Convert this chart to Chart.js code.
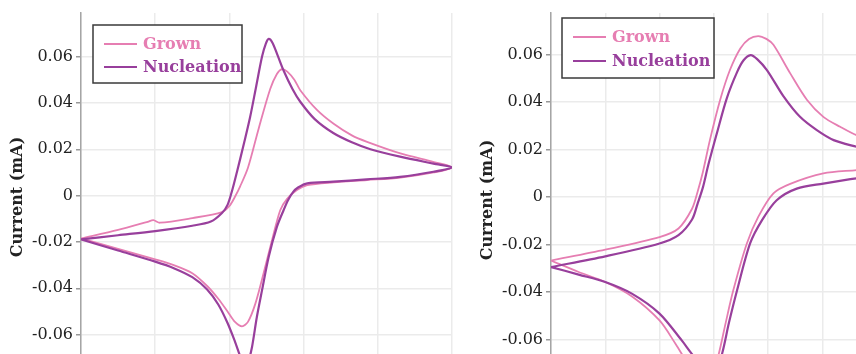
<!DOCTYPE html>
<html>
<head>
<meta charset="utf-8">
<script src="https://cdn.jsdelivr.net/npm/chart.js@4.4.1/dist/chart.umd.min.js"></script>
<style>
  html, body { margin: 0; padding: 0; background: #fff; }
  body { width: 856px; height: 354px; overflow: hidden; position: relative; }
  canvas { position: absolute; top: 0; }
  #cv-left { left: 0; }
  #cv-right { left: 470px; }
</style>
</head>
<body>
<canvas id="cv-left" width="470" height="381"></canvas>
<canvas id="cv-right" width="525" height="387"></canvas>
<script>
const seriesNames = ["Grown", "Nucleation"];
const seriesColors = ["#e67eb2", "#983f9c"];

const currentTicks = [-0.06, -0.04, -0.02, 0, 0.02, 0.04, 0.06];
const leftPotentialTicks = [-0.2, 0, 0.2, 0.4, 0.6, 0.8];
const rightPotentialTicks = [-0.2, -0.1, 0, 0.1, 0.2, 0.3, 0.4, 0.5, 0.6];

// left panel: potential (V) / current (mA), forward sweep then reverse sweep
const leftGrownV = [-0.2, -0.1, -0.02, -0.005, 0.013, 0.1, 0.18, 0.2, 0.215, 0.229, 0.25, 0.279, 0.31, 0.328, 0.342, 0.356, 0.375, 0.391, 0.436, 0.481, 0.53, 0.571, 0.661, 0.751, 0.8,
  0.751, 0.661, 0.571, 0.481, 0.41, 0.382, 0.355, 0.337, 0.315, 0.292, 0.27, 0.25, 0.234, 0.215, 0.195, 0.17, 0.14, 0.1, 0.05, 0.0, -0.1, -0.2];
const leftGrownI = [-0.0185, -0.0148, -0.0113, -0.0106, -0.0117, -0.0097, -0.0071, -0.0045, -0.0005, 0.004, 0.012, 0.029, 0.046, 0.0525, 0.0546, 0.0535, 0.050, 0.0455, 0.037, 0.031, 0.026, 0.0232, 0.0182, 0.0145, 0.0122,
  0.0100, 0.0078, 0.0067, 0.0057, 0.0045, 0.0024, -0.0015, -0.0063, -0.0192, -0.0336, -0.0466, -0.0545, -0.0564, -0.0545, -0.050, -0.0445, -0.039, -0.0335, -0.030, -0.0275, -0.023, -0.0185];

const leftNucV = [-0.2, -0.1, 0.0, 0.1, 0.15, 0.18, 0.195, 0.207, 0.22, 0.24, 0.256, 0.272, 0.288, 0.298, 0.306, 0.316, 0.33, 0.346, 0.37, 0.391, 0.43, 0.48, 0.53, 0.58, 0.66, 0.75, 0.8,
  0.75, 0.66, 0.57, 0.48, 0.41, 0.385, 0.372, 0.358, 0.346, 0.328, 0.306, 0.288, 0.274, 0.261, 0.252, 0.243, 0.232, 0.215, 0.195, 0.17, 0.14, 0.1, 0.05, 0.0, -0.1, -0.2];
const leftNucI = [-0.0189, -0.0171, -0.0153, -0.013, -0.0112, -0.0075, -0.004, 0.002, 0.010, 0.023, 0.034, 0.047, 0.060, 0.0655, 0.0676, 0.066, 0.0605, 0.054, 0.046, 0.0405, 0.033, 0.027, 0.023, 0.020, 0.0168, 0.0138, 0.0122,
  0.0103, 0.0081, 0.007, 0.006, 0.0053, 0.0035, 0.0016, -0.002, -0.0063, -0.0135, -0.0264, -0.0408, -0.0524, -0.0653, -0.071, -0.0735, -0.0705, -0.063, -0.055, -0.047, -0.0405, -0.0352, -0.0313, -0.0285, -0.0237, -0.0189];

// right panel
const rightGrownV = [-0.2, -0.1, 0.0, 0.035, 0.06, 0.07, 0.08, 0.093, 0.112, 0.13, 0.149, 0.165, 0.182, 0.197, 0.21, 0.241, 0.272, 0.302, 0.333, 0.363, 0.4,
  0.4, 0.363, 0.302, 0.241, 0.21, 0.182, 0.161, 0.136, 0.122, 0.109, 0.097, 0.08, 0.055, 0.03, 0.0, -0.05, -0.1, -0.149, -0.2];
const rightGrownI = [-0.0268, -0.0222, -0.0169, -0.0133, -0.005, 0.002, 0.0105, 0.024, 0.041, 0.0535, 0.0625, 0.0665, 0.0677, 0.0665, 0.064, 0.052, 0.0408, 0.0337, 0.0295, 0.026, 0.0235,
  0.0122, 0.0113, 0.0099, 0.0055, 0.0015, -0.0084, -0.0196, -0.0393, -0.053, -0.0663, -0.075, -0.077, -0.071, -0.062, -0.052, -0.042, -0.0358, -0.0316, -0.0268];

const rightNucV = [-0.2, -0.1, 0.0, 0.035, 0.06, 0.07, 0.08, 0.09, 0.106, 0.124, 0.143, 0.155, 0.168, 0.18, 0.198, 0.229, 0.259, 0.29, 0.321, 0.363, 0.4,
  0.4, 0.363, 0.302, 0.253, 0.216, 0.189, 0.167, 0.143, 0.128, 0.115, 0.105, 0.09, 0.065, 0.041, 0.0, -0.051, -0.1, -0.149, -0.2];
const rightNucI = [-0.0295, -0.025, -0.0196, -0.0161, -0.0095, -0.003, 0.004, 0.0135, 0.027, 0.0415, 0.0525, 0.0575, 0.0597, 0.058, 0.0534, 0.0422, 0.0337, 0.0281, 0.0239, 0.0211, 0.019,
  0.0085, 0.0078, 0.0056, 0.0035, -0.0014, -0.0098, -0.0196, -0.0393, -0.053, -0.0663, -0.0715, -0.0725, -0.0675, -0.0604, -0.0491, -0.0407, -0.0358, -0.0327, -0.0295];

Chart.defaults.font.family = '"DejaVu Serif", serif';
Chart.defaults.color = "#222";

const boxLegend = {
  id: "boxLegend",
  afterDraw(chart, args, opts) {
    const { ctx, chartArea } = chart;
    const x = chartArea.left + opts.x;
    const y = chartArea.top + opts.y;
    ctx.save();
    ctx.fillStyle = "#fff";
    ctx.fillRect(x, y, opts.width, opts.height);
    ctx.strokeStyle = "#3a3a3a";
    ctx.lineWidth = 1.5;
    ctx.strokeRect(x, y, opts.width, opts.height);
    ctx.font = 'bold 16px "DejaVu Serif"';
    ctx.textBaseline = "middle";
    chart.data.datasets.forEach((ds, i) => {
      const rowY = y + opts.rows[i];
      ctx.strokeStyle = ds.borderColor;
      ctx.lineWidth = ds.borderWidth;
      ctx.beginPath();
      ctx.moveTo(x + 11, rowY);
      ctx.lineTo(x + 44, rowY);
      ctx.stroke();
      ctx.fillStyle = ds.borderColor;
      ctx.fillText(ds.label, x + 50, rowY + 1);
    });
    ctx.restore();
  },
};

function pairs(vs, is) {
  return vs.map((v, k) => ({ x: v, y: is[k] }));
}

function makeCV(canvasId, grown, nuc, xTicks, xMax, yMax, legendBox, rightPad) {
  const datasets = [
    { label: seriesNames[0], data: grown, borderColor: seriesColors[0], borderWidth: 1.8, order: 1 },
    { label: seriesNames[1], data: nuc, borderColor: seriesColors[1], borderWidth: 2.2, order: 0 },
  ].map((d) => ({ ...d, showLine: true, pointRadius: 0, tension: 0.3, fill: false }));

  return new Chart(document.getElementById(canvasId), {
    type: "scatter",
    data: { datasets },
    plugins: [boxLegend],
    options: {
      responsive: false,
      animation: false,
      devicePixelRatio: 1,
      layout: { padding: { top: 13, right: rightPad, left: 0, bottom: 0 } },
      plugins: {
        legend: { display: false },
        tooltip: { enabled: false },
        boxLegend: legendBox,
      },
      scales: {
        x: {
          type: "linear",
          min: -0.2,
          max: xMax,
          afterBuildTicks: (axis) => { axis.ticks = xTicks.map((value) => ({ value })); },
          afterFit: (axis) => { axis.height = 0; axis.paddingLeft = 0; axis.paddingRight = 0; },
          ticks: { display: false },
          grid: { color: "#ebebeb", lineWidth: 1.5, drawTicks: false },
          border: { display: false },
        },
        y: {
          min: -0.08,
          max: yMax,
          afterBuildTicks: (axis) => { axis.ticks = currentTicks.map((value) => ({ value })); },
          afterFit: (axis) => { axis.width = 81; axis.paddingTop = 0; axis.paddingBottom = 0; },
          ticks: {
            font: { size: 16 },
            color: "#222",
            padding: 3,
            callback: (v) => (v === 0 ? "0" : v.toFixed(2)),
          },
          grid: { color: "#ebebeb", lineWidth: 1.5, tickColor: "#999", tickLength: 5 },
          border: { color: "#a5a5a5", width: 1.5 },
          title: {
            display: true,
            text: "Current (mA)",
            font: { size: 16, weight: "bold" },
            color: "#222",
            padding: { top: 8, bottom: 0 },
          },
        },
      },
    },
  });
}

makeCV("cv-left", pairs(leftGrownV, leftGrownI), pairs(leftNucV, leftNucI), leftPotentialTicks, 0.8, 0.0788,
  { x: 12, y: 12, width: 149, height: 58, rows: [19, 42] }, 18);
makeCV("cv-right", pairs(rightGrownV, rightGrownI), pairs(rightNucV, rightNucI), rightPotentialTicks, 0.6, 0.0774,
  { x: 11, y: 5, width: 152, height: 60, rows: [19, 43] }, 10);
</script>
</body>
</html>
